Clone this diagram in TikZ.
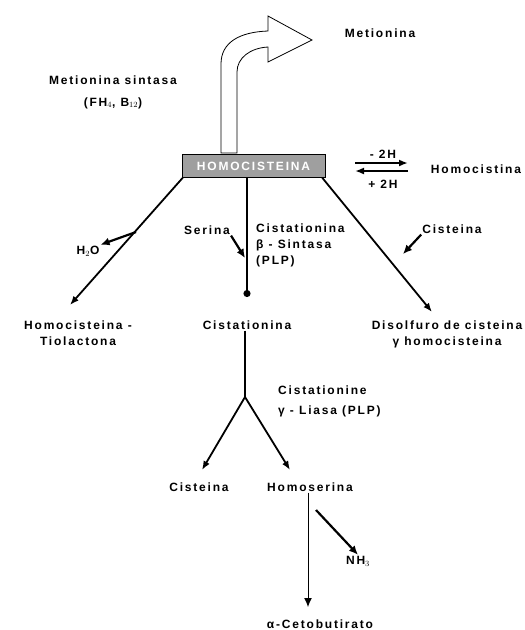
\documentclass[tikz,border=0pt]{standalone}
\usepackage{fontspec}
\setmainfont[LetterSpace=15]{Liberation Sans}
\usetikzlibrary{arrows,arrows.meta,positioning}
\tikzset{
  basic/.style  = {font=\bfseries\fontsize{12}{16}\selectfont, inner sep=1pt},
  metab/.style  = {basic, align=center},
  enzima/.style = {basic, align=left, anchor=west},
  caja/.style   = {basic, draw=black, fill=gray!75, text=white,
                   minimum width=143pt, minimum height=23pt},
  flecha/.style = {-{Latex[length=9pt,width=7pt]}, line width=1.8pt},
  lateral/.style = {-{Latex[length=9pt,width=8pt]}, line width=2.2pt}
}

\begin{document}
\begin{tikzpicture}[x=1pt, y=-1pt, >=latex]
\useasboundingbox (0,0) rectangle (525,630);

% metabolito central
\node[caja] (homo) at (253.5,166) {HOMOCISTEINA};

% flecha curva hacia la metionina
\draw[fill=white, line width=0.8pt] (221,153) -- (221,64)
  .. controls (221,42) and (240,32) .. (268,31) -- (268,16) -- (312,40)
  -- (268,62) -- (268,47) .. controls (250,48) and (237,58) .. (237,72)
  -- (237,153) -- cycle;
\node[metab] (met) at (380,33) {Metionina};
\node[metab] (metsin) at (113,92) {Metionina sintasa\\[6pt](FH$_4$, B$_{12}$)};

% homocistina
\node[metab] (hcist) at (476,169) {Homocistina};
\node[metab] (menos) at (383,154) {- 2H};
\node[metab] (mas) at (383,184) {+ 2H};
\coordinate (ida1) at (355,163);
\coordinate (ida2) at (408,163);
\coordinate (vue1) at (408,171);
\coordinate (vue2) at (355,171);
\draw[flecha] (ida1) -- (ida2);
\draw[flecha] (vue1) -- (vue2);

% The three products, relatively positioned labels
\node[metab] (tiol) at (78,333) {Homocisteina -\\Tiolactona};
\node[metab] (cist1) at (247,325) {Cistationina};
\node[metab] (disulf) at (447,334) {Disolfuro de cisteina\\γ homocisteina};

\node[metab] (h2o) at (88,251) {H$_2$O};
\node[metab] (serina) at (207,230) {Serina};
\node[enzima] (cbs) at (255,245) {Cistationina\\β - Sintasa\\(PLP)};
\node[metab] (cisA) at (452,229) {Cisteina};

\coordinate (finL) at (70,305);
\coordinate (finC) at (247,297);
\coordinate (finR) at (432,312);
\draw[flecha] ([xshift=1pt]homo.south west) -- (finL);
\draw[line width=1.8pt, -{Circle[length=7pt]}] ([xshift=-6.5pt]homo.south) -- (finC);
\draw[flecha] ([xshift=-3pt]homo.south east) -- (finR);

\coordinate (h2oL) at (136,232);
\coordinate (serL) at (245,258);
\coordinate (cisL) at (403,254);
\draw[lateral] (h2oL) -- (h2o.north east);
\draw[lateral] (serina.south east) -- (serL);
\draw[lateral] (cisA.south west) -- (cisL);

% cistationina gamma-liasa
\node[enzima] (cgl) at (277,401) {Cistationine\\[4pt]γ - Liasa (PLP)};
\node[metab] (cisB) at (199,487) {Cisteina};
\node[metab] (hser) at (310,487) {Homoserina};
\coordinate (rama) at (245,397);
\coordinate (finB1) at (202,470);
\coordinate (finB2) at (290,470);
\draw[line width=1.8pt] ([xshift=-2pt]cist1.south) -- (rama);
\draw[flecha] (rama) -- (finB1);
\draw[flecha] (rama) -- (finB2);

% desaminacion de la homoserina
\node[metab] (keto) at (320,624) {α-Cetobutirato};
\node[metab] (nh3) at (358,561) {NH$_3$};
\coordinate (finK) at (308,607);
\coordinate (nhA) at (316,510);
\draw[line width=1pt, -{Latex[length=9pt,width=8pt]}] ([xshift=-2pt]hser.south) -- (finK);
\draw[lateral] (nhA) -- (nh3.north);
\end{tikzpicture}
\end{document}
